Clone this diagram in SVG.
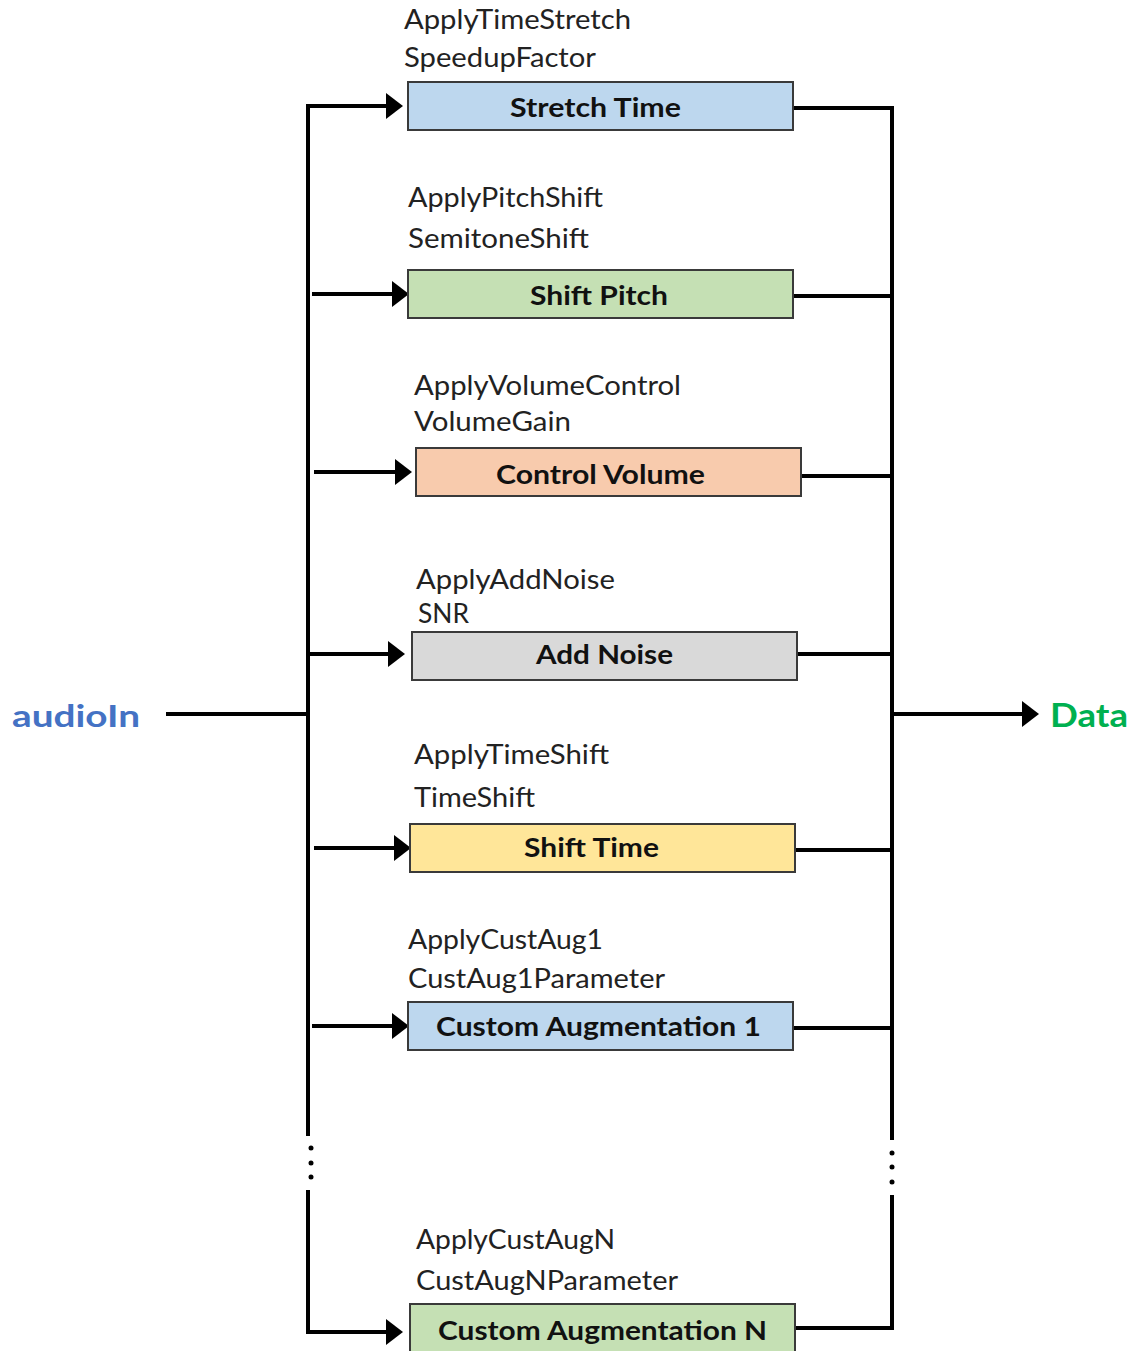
<svg xmlns="http://www.w3.org/2000/svg" width="1137" height="1351" viewBox="0 0 1137 1351">
<defs>
<marker id="ah" markerUnits="userSpaceOnUse" markerWidth="18" markerHeight="28" refX="8" refY="14" orient="auto">
<path d="M0,1 L17,14 L0,27 z" fill="#000"/>
</marker>
<style>
.box{stroke:#3a3a3a;stroke-width:2}
.bt{font-family:Lato,"Liberation Sans",sans-serif;font-weight:bold;font-size:26px;fill:#111;text-anchor:middle}
.lb{font-family:Lato,"Liberation Sans",sans-serif;font-size:26px;fill:#222}
.ln{stroke:#000;stroke-width:4;fill:none}
.ar{stroke:#000;stroke-width:4;fill:none;marker-end:url(#ah)}
.dot{fill:#000}
</style>
</defs>
<rect width="1137" height="1351" fill="#fff"/>

<g id="connectors">
<!-- input -->
<path class="ln" d="M166,714 H308"/>
<!-- left bus -->
<path class="ln" d="M308,1136 V106 H394"/>
<path class="ar" d="M308,106 H394"/>
<path class="ln" d="M308,1190 V1332 H394"/>
<path class="ar" d="M308,1332 H394"/>
<circle class="dot" cx="311" cy="1148" r="2.5"/>
<circle class="dot" cx="311" cy="1163" r="2.5"/>
<circle class="dot" cx="311" cy="1177" r="2.5"/>
<!-- branch arrows -->
<path class="ar" d="M312,294 H400"/>
<path class="ar" d="M314,472 H403"/>
<path class="ar" d="M308,654 H396"/>
<path class="ar" d="M314,848 H402"/>
<path class="ar" d="M312,1026 H400"/>
<!-- right bus -->
<path class="ln" d="M793,108 H892 V1140"/>
<path class="ln" d="M892,1195 V1328 H795"/>
<circle class="dot" cx="892" cy="1153" r="2.5"/>
<circle class="dot" cx="892" cy="1167" r="2.5"/>
<circle class="dot" cx="892" cy="1182" r="2.5"/>
<path class="ln" d="M793,296 H892"/>
<path class="ln" d="M801,476 H892"/>
<path class="ln" d="M797,654 H892"/>
<path class="ln" d="M795,850 H892"/>
<path class="ln" d="M793,1028 H892"/>
<!-- output -->
<path class="ar" d="M892,714 H1030"/>
</g>

<g id="audioIn">
<text x="12" y="727" font-family="Lato,'Liberation Sans',sans-serif" font-weight="bold" font-size="31" fill="#4472C4" textLength="128" lengthAdjust="spacingAndGlyphs">audioIn</text>
</g>
<g id="data">
<text x="1050" y="727" font-family="Lato,'Liberation Sans',sans-serif" font-weight="bold" font-size="33" fill="#00B050" textLength="78" lengthAdjust="spacingAndGlyphs">Data</text>
</g>

<g id="stretchTime">
<text class="lb" x="404" y="29" textLength="227" lengthAdjust="spacingAndGlyphs">ApplyTimeStretch</text>
<text class="lb" x="404" y="67" textLength="192" lengthAdjust="spacingAndGlyphs">SpeedupFactor</text>
<rect class="box" x="408" y="82" width="385" height="48" fill="#BDD7EE"/>
<text class="bt" x="595.5" y="117" textLength="171" lengthAdjust="spacingAndGlyphs">Stretch Time</text>
</g>

<g id="shiftPitch">
<text class="lb" x="408" y="207" textLength="195" lengthAdjust="spacingAndGlyphs">ApplyPitchShift</text>
<text class="lb" x="408" y="248" textLength="181" lengthAdjust="spacingAndGlyphs">SemitoneShift</text>
<rect class="box" x="408" y="270" width="385" height="48" fill="#C5E0B4"/>
<text class="bt" x="599" y="305" textLength="138" lengthAdjust="spacingAndGlyphs">Shift Pitch</text>
</g>

<g id="controlVolume">
<text class="lb" x="414" y="395" textLength="267" lengthAdjust="spacingAndGlyphs">ApplyVolumeControl</text>
<text class="lb" x="414" y="431" textLength="157" lengthAdjust="spacingAndGlyphs">VolumeGain</text>
<rect class="box" x="416" y="448" width="385" height="48" fill="#F8CBAD"/>
<text class="bt" x="600.5" y="484" textLength="209" lengthAdjust="spacingAndGlyphs">Control Volume</text>
</g>

<g id="addNoise">
<text class="lb" x="416" y="589" textLength="199" lengthAdjust="spacingAndGlyphs">ApplyAddNoise</text>
<text class="lb" x="418" y="623" textLength="51" lengthAdjust="spacingAndGlyphs">SNR</text>
<rect class="box" x="412" y="632" width="385" height="48" fill="#D9D9D9"/>
<text class="bt" x="604.5" y="664" textLength="137" lengthAdjust="spacingAndGlyphs">Add Noise</text>
</g>

<g id="shiftTime">
<text class="lb" x="414" y="764" textLength="195" lengthAdjust="spacingAndGlyphs">ApplyTimeShift</text>
<text class="lb" x="414" y="807" textLength="121" lengthAdjust="spacingAndGlyphs">TimeShift</text>
<rect class="box" x="410" y="824" width="385" height="48" fill="#FFE699"/>
<text class="bt" x="591.5" y="857" textLength="135" lengthAdjust="spacingAndGlyphs">Shift Time</text>
</g>

<g id="customAug1">
<text class="lb" x="408" y="949" textLength="195" lengthAdjust="spacingAndGlyphs">ApplyCustAug1</text>
<text class="lb" x="408" y="988" textLength="257" lengthAdjust="spacingAndGlyphs">CustAug1Parameter</text>
<rect class="box" x="408" y="1002" width="385" height="48" fill="#BDD7EE"/>
<text class="bt" x="598.5" y="1036" textLength="325" lengthAdjust="spacingAndGlyphs">Custom Augmentation 1</text>
</g>

<g id="customAugN">
<text class="lb" x="416" y="1249" textLength="199" lengthAdjust="spacingAndGlyphs">ApplyCustAugN</text>
<text class="lb" x="416" y="1290" textLength="262" lengthAdjust="spacingAndGlyphs">CustAugNParameter</text>
<rect class="box" x="410" y="1304" width="385" height="52" fill="#C5E0B4"/>
<text class="bt" x="602.5" y="1340" textLength="329" lengthAdjust="spacingAndGlyphs">Custom Augmentation N</text>
</g>
</svg>
